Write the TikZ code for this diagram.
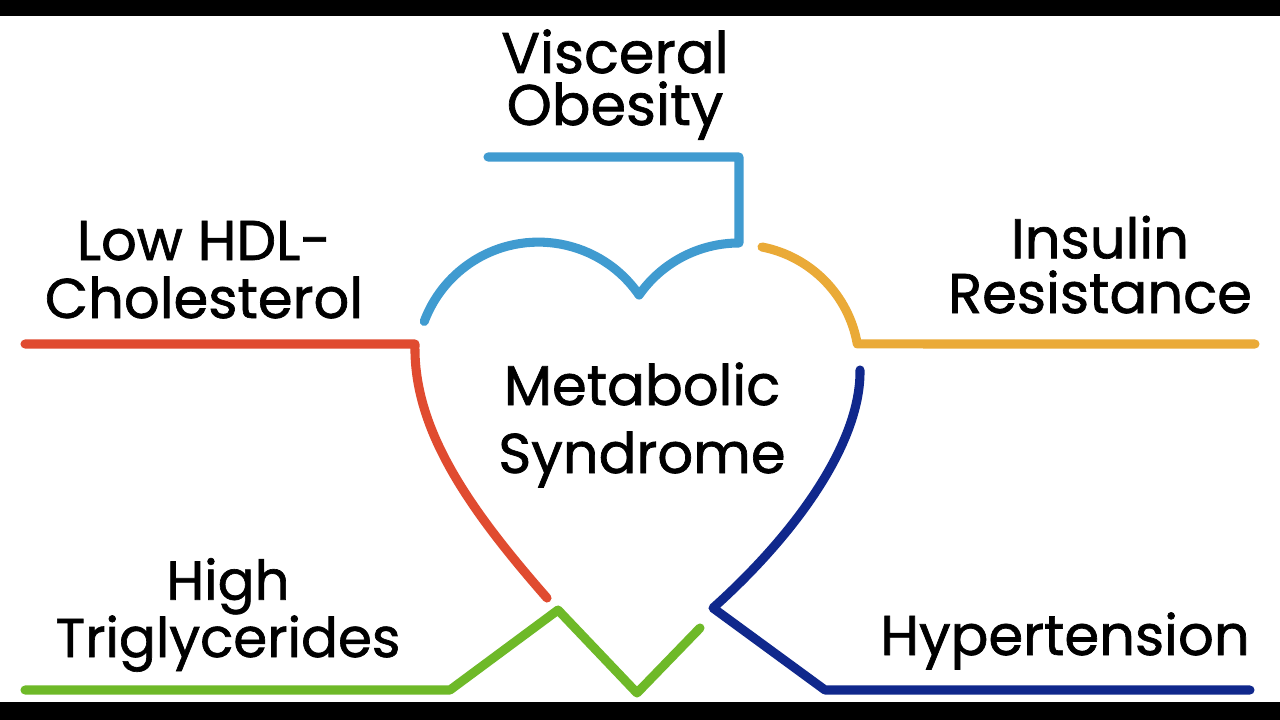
\documentclass[tikz,border=0pt]{standalone}
\usepackage{fontspec}
\setmainfont[FakeBold=1.2]{Poppins}
\definecolor{cblue}{RGB}{64,155,208}
\definecolor{corange}{RGB}{234,170,55}
\definecolor{cred}{RGB}{224,75,48}
\definecolor{cnavy}{RGB}{16,40,140}
\definecolor{cgreen}{RGB}{110,185,40}
\begin{document}
\begin{tikzpicture}[x=0.75pt,y=-0.75pt,
  seg/.style={line width=6.8pt, line cap=round, line join=round},
  lbl/.style={anchor=base, align=center, inner sep=0pt, text=black}]
\useasboundingbox (0,0) rectangle (1280,720);
\fill[white] (0,0) rectangle (1280,720);
\fill[black] (0,0) rectangle (1280,16);
\fill[black] (0,702) rectangle (1280,720);
% points
\coordinate (b1) at (488,157);
\coordinate (b2) at (739,157);
\coordinate (b3) at (739,243);
\coordinate (o1) at (762,247);
\coordinate (o2) at (1255,344);
\coordinate (r1) at (25,344);
\coordinate (r2) at (415,344);
\coordinate (r3) at (547,598);
\coordinate (n1) at (860,370);
\coordinate (n2) at (713,608);
\coordinate (n3) at (825,690);
\coordinate (n4) at (1250,690);
\coordinate (g1) at (25,690);
\coordinate (g2) at (450,690);
\coordinate (g3) at (558,610);
\coordinate (g4) at (637,693);
\coordinate (g5) at (700,628);
% blue: visceral obesity
\draw[seg, cblue] (b1) -- (b2) -- (b3)
  arc[start angle=-90, end angle=-145, radius=122]
  arc[start angle=-34.5, end angle=-159.5, radius=122];
% orange: insulin resistance
\draw[seg, corange] (o1) arc[start angle=-79, end angle=-10, radius=120] -- (o2);
% red: low HDL
\draw[seg, cred] (r1) -- (r2) .. controls (413,430) and (470,510) .. (r3);
% navy: hypertension
\draw[seg, cnavy] (n1) .. controls (861,440) and (800,530) .. (n2) -- (n3) -- (n4);
% green: triglycerides
\draw[seg, cgreen] (g1) -- (g2) -- (g3) -- (g4) -- (g5);
% labels (anchor = baseline of last line)
\node[lbl, font=\fontsize{43}{39}\selectfont] (visc) at (615,125) {Visceral\\Obesity};
\node[lbl, font=\fontsize{42}{43.5}\selectfont] (hdl) at (204,318) {Low HDL-\\Cholesterol};
\node[lbl, font=\fontsize{42}{41}\selectfont] (ins) at (1100,313) {Insulin\\Resistance};
\node[lbl, font=\fontsize{42}{51}\selectfont] (met) at (642,473) {Metabolic\\Syndrome};
\node[lbl, font=\fontsize{41}{43}\selectfont] (high) at (228,657) {High\\Triglycerides};
\node[lbl, font=\fontsize{42}{42}\selectfont] (hyp) at (1065,655) {Hypertension};
\end{tikzpicture}
\end{document}
